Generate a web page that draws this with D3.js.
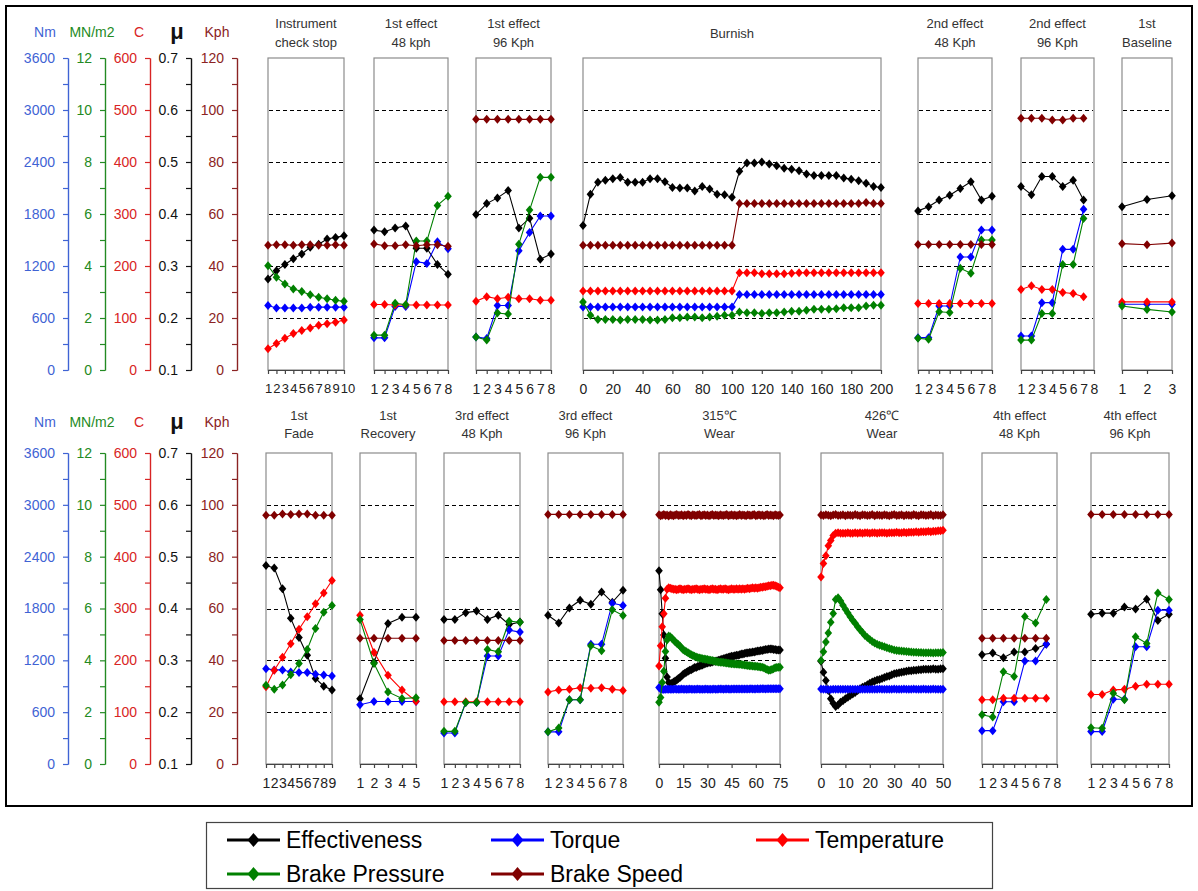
<!DOCTYPE html>
<html>
<head>
<meta charset="utf-8">
<script src="https://cdn.jsdelivr.net/npm/d3@7"></script>
<style>
  body { margin: 0; background: #fff; }
  svg { display: block; }
  text { font-family: "Liberation Sans", Arial, sans-serif; }
</style>
</head>
<body>
<svg id="chart" width="1198" height="891"></svg>
<script>
// ---------------- Data ----------------
// Shared value axes (one per measured quantity)
const torqueTicks   = [0, 600, 1200, 1800, 2400, 3000, 3600];
const pressureTicks = [0, 2, 4, 6, 8, 10, 12];
const tempTicks     = [0, 100, 200, 300, 400, 500, 600];
const muTicks       = [0.1, 0.2, 0.3, 0.4, 0.5, 0.6, 0.7];
const speedTicks    = [0, 20, 40, 60, 80, 100, 120];
const gridSpeeds    = [20, 40, 60, 80, 100];

// Instrument check stop
const checkStopX        = [1, 2, 3, 4, 5, 6, 7, 8, 9, 10];
const checkStopEff      = [0.275, 0.291, 0.303, 0.314, 0.323, 0.336, 0.342, 0.352, 0.355, 0.358];
const checkStopTorque   = [745, 715, 715, 715, 715, 725, 725, 725, 725, 725];
const checkStopTemp     = [41, 51, 61, 70, 76, 81, 86, 89, 92, 96];
const checkStopPressure = [4.01, 3.57, 3.31, 3.12, 3.02, 2.89, 2.80, 2.74, 2.68, 2.64];
const checkStopSpeed    = [48, 48.2, 48.2, 48, 48.2, 48.2, 48, 48, 48.2, 48];

// 1st effect 48 kph
const eff1a48X        = [1, 2, 3, 4, 5, 6, 7, 8];
const eff1a48Eff      = [0.369, 0.366, 0.373, 0.377, 0.334, 0.334, 0.303, 0.284];
const eff1a48Torque   = [371, 371, 734, 734, 1250, 1230, 1480, 1400];
const eff1a48Temp     = [126, 126, 125, 125, 125, 125, 125, 125];
const eff1a48Pressure = [1.34, 1.34, 2.57, 2.51, 4.96, 4.96, 6.33, 6.68];
const eff1a48Speed    = [48.5, 47.8, 47.8, 48.2, 47.8, 48.2, 48.2, 47.6];

// 1st effect 96 Kph
const eff1a96X        = [1, 2, 3, 4, 5, 6, 7, 8];
const eff1a96Eff      = [0.399, 0.420, 0.431, 0.445, 0.373, 0.392, 0.313, 0.323];
const eff1a96Torque   = [382, 363, 745, 745, 1376, 1586, 1777, 1777];
const eff1a96Temp     = [132, 141, 137, 140, 137, 137, 134, 134];
const eff1a96Pressure = [1.27, 1.15, 2.19, 2.15, 4.84, 6.15, 7.41, 7.41];
const eff1a96Speed    = [96.4, 96.4, 96.4, 96.4, 96.4, 96.4, 96.4, 96.4];

// Burnish
const burnishX = [0, 5, 10, 15, 20, 25, 30, 35, 40, 45, 50, 55, 60, 65, 70, 75, 80, 85, 90, 95, 100,
  105, 110, 115, 120, 125, 130, 135, 140, 145, 150, 155, 160, 165, 170, 175, 180, 185, 190, 195, 200];
const burnishEff = [0.378, 0.438, 0.461, 0.465, 0.468, 0.470, 0.461, 0.461, 0.461, 0.468, 0.468,
  0.462, 0.451, 0.450, 0.450, 0.444, 0.453, 0.448, 0.438, 0.437, 0.432,
  0.482, 0.498, 0.498, 0.500, 0.496, 0.493, 0.488, 0.486, 0.483, 0.477,
  0.474, 0.474, 0.474, 0.474, 0.469, 0.467, 0.464, 0.459, 0.453, 0.451];
const burnishTorque = [728, 728, 728, 728, 728, 728, 728, 728, 728, 728, 728,
  728, 728, 728, 728, 728, 728, 728, 728, 728, 728,
  870, 870, 870, 870, 870, 870, 870, 870, 870, 870,
  870, 870, 870, 870, 870, 870, 870, 870, 870, 870];
const burnishTemp = [152, 152, 152, 152, 152, 152, 152, 152, 152, 152, 152,
  152, 152, 152, 152, 152, 152, 152, 152, 152, 152,
  187, 187, 187, 185, 185, 185, 185, 186, 187, 187,
  187, 187, 187, 187, 187, 187, 187, 187, 187, 187];
const burnishPressure = [2.62, 2.11, 1.94, 1.94, 1.94, 1.92, 1.94, 1.94, 1.94, 1.92, 1.92,
  1.94, 2.01, 2.01, 2.04, 2.04, 2.01, 2.04, 2.07, 2.11, 2.11,
  2.23, 2.20, 2.20, 2.17, 2.20, 2.20, 2.23, 2.26, 2.26, 2.30,
  2.34, 2.34, 2.34, 2.36, 2.39, 2.39, 2.39, 2.46, 2.49, 2.49];
const burnishSpeed = [48, 48, 48, 48, 48, 48, 48, 48, 48, 48, 48,
  48, 48, 48, 48, 48, 48, 48, 48, 48, 48,
  64, 64, 64, 64, 64, 64, 64, 64, 64, 64,
  64, 64, 64, 64, 64, 64, 64, 64.4, 64, 64];

// 2nd effect 48 Kph
const eff2a48X        = [1, 2, 3, 4, 5, 6, 7, 8];
const eff2a48Eff      = [0.406, 0.414, 0.427, 0.436, 0.449, 0.462, 0.427, 0.434];
const eff2a48Torque   = [373, 373, 738, 738, 1304, 1304, 1615, 1615];
const eff2a48Temp     = [128, 128, 128, 128, 128, 128, 128, 128];
const eff2a48Pressure = [1.22, 1.18, 2.24, 2.21, 3.91, 3.72, 5.00, 5.00];
const eff2a48Speed    = [48.3, 48.3, 48.3, 48.3, 48.3, 48.3, 48.3, 48.3];

// 2nd effect 96 Kph
const eff2a96X        = [1, 2, 3, 4, 5, 6, 7];
const eff2a96Eff      = [0.453, 0.437, 0.472, 0.472, 0.453, 0.465, 0.427];
const eff2a96Torque   = [392, 392, 777, 777, 1392, 1392, 1854];
const eff2a96Temp     = [155, 162, 155, 155, 149, 147, 141];
const eff2a96Pressure = [1.15, 1.15, 2.17, 2.17, 4.06, 4.06, 5.83];
const eff2a96Speed    = [96.8, 96.8, 96.8, 96.2, 96.2, 96.8, 96.8];

// 1st Baseline
const baselineX        = [1, 2, 3];
const baselineEff      = [0.414, 0.428, 0.435];
const baselineTorque   = [758, 758, 758];
const baselineTemp     = [131, 131, 131];
const baselinePressure = [2.46, 2.33, 2.23];
const baselineSpeed    = [48.6, 48.2, 48.8];

// 1st Fade
const fadeX        = [1, 2, 3, 4, 5, 6, 7, 8, 9];
const fadeEff      = [0.483, 0.478, 0.438, 0.381, 0.344, 0.310, 0.265, 0.250, 0.243];
const fadeTorque   = [1104, 1089, 1089, 1065, 1058, 1058, 1038, 1031, 1019];
const fadeTemp     = [149, 181, 206, 232, 260, 284, 309, 330, 354];
const fadePressure = [3.04, 2.88, 3.05, 3.44, 3.88, 4.42, 5.23, 5.86, 6.12];
const fadeSpeed    = [96, 96, 96.5, 96.3, 96.5, 96.5, 96, 96, 96];

// 1st Recovery
const recoveryX        = [1, 2, 3, 4, 5];
const recoveryEff      = [0.226, 0.296, 0.371, 0.383, 0.383];
const recoveryTorque   = [685, 723, 723, 723, 723];
const recoveryTemp     = [287, 215, 171, 143, 121];
const recoveryPressure = [5.58, 3.88, 2.78, 2.53, 2.56];
const recoverySpeed    = [48.5, 48.5, 48.5, 48.5, 48.5];

// 3rd effect 48 Kph
const eff3a48X        = [1, 2, 3, 4, 5, 6, 7, 8];
const eff3a48Eff      = [0.379, 0.379, 0.392, 0.395, 0.379, 0.387, 0.369, 0.374];
const eff3a48Torque   = [358, 358, 712, 712, 1250, 1250, 1550, 1527];
const eff3a48Temp     = [120, 120, 120, 120, 120, 120, 120, 120];
const eff3a48Pressure = [1.26, 1.26, 2.37, 2.37, 4.42, 4.33, 5.51, 5.47];
const eff3a48Speed    = [47.7, 47.7, 47.7, 47.7, 47.7, 47.7, 47.7, 47.7];

// 3rd effect 96 Kph
const eff3a96X        = [1, 2, 3, 4, 5, 6, 7, 8];
const eff3a96Eff      = [0.387, 0.372, 0.401, 0.416, 0.408, 0.432, 0.412, 0.435];
const eff3a96Torque   = [372, 372, 744, 744, 1386, 1386, 1861, 1834];
const eff3a96Temp     = [139, 143, 144, 147, 146, 147, 144, 142];
const eff3a96Pressure = [1.24, 1.39, 2.48, 2.48, 4.56, 4.37, 5.95, 5.73];
const eff3a96Speed    = [96.3, 96.3, 96.3, 96.3, 96.3, 96.3, 96.3, 96.3];

// 315 °C wear
const wear315X = [0, 1, 2, 3, 4, 5, 6, 7, 8, 9, 10, 11, 12, 13, 14, 15, 16, 17, 18, 19,
  20, 21, 22, 23, 24, 25, 26, 27, 28, 29, 30, 31, 32, 33, 34, 35, 36, 37, 38, 39,
  40, 41, 42, 43, 44, 45, 46, 47, 48, 49, 50, 51, 52, 53, 54, 55, 56, 57, 58, 59,
  60, 61, 62, 63, 64, 65, 66, 67, 68, 69, 70, 71, 72, 73, 74, 75];
const wear315Eff = [0.473, 0.436, 0.390, 0.349, 0.304, 0.268, 0.257, 0.255, 0.256, 0.258,
  0.260, 0.262, 0.265, 0.267, 0.270, 0.273, 0.275, 0.277, 0.279, 0.281,
  0.282, 0.284, 0.286, 0.286, 0.288, 0.289, 0.290, 0.291, 0.293, 0.294,
  0.295, 0.296, 0.296, 0.297, 0.298, 0.298, 0.299, 0.300, 0.301, 0.302,
  0.303, 0.304, 0.305, 0.306, 0.307, 0.308, 0.308, 0.309, 0.310, 0.310,
  0.311, 0.312, 0.312, 0.313, 0.314, 0.314, 0.315, 0.315, 0.316, 0.316,
  0.317, 0.318, 0.318, 0.319, 0.319, 0.320, 0.321, 0.321, 0.322, 0.322,
  0.322, 0.321, 0.321, 0.320, 0.320, 0.320];
const wear315Torque = [885, 868, 865, 862, 864, 866, 866, 865, 864, 866,
  867, 866, 865, 866, 867, 866, 865, 866, 866, 867,
  866, 865, 866, 866, 867, 866, 865, 866, 866, 867,
  866, 865, 866, 866, 867, 866, 866, 867, 868, 867,
  866, 867, 868, 867, 866, 867, 868, 868, 867, 868,
  869, 868, 867, 868, 869, 868, 869, 870, 869, 868,
  869, 870, 869, 870, 871, 870, 869, 870, 871, 870,
  871, 872, 871, 870, 871, 870];
const wear315Temp = [189, 228, 265, 290, 320, 337, 340, 339, 338, 337,
  337, 336, 337, 338, 337, 336, 337, 337, 338, 337,
  336, 337, 337, 338, 337, 336, 337, 337, 338, 337,
  337, 336, 337, 338, 337, 337, 336, 337, 338, 337,
  337, 338, 337, 336, 337, 338, 337, 337, 338, 337,
  338, 337, 338, 337, 338, 339, 338, 339, 340, 339,
  340, 339, 340, 341, 341, 342, 342, 343, 344, 344,
  345, 345, 344, 343, 341, 340];
const wear315Pressure = [2.38, 2.57, 3.14, 3.58, 4.34, 4.78, 4.94, 4.91, 4.85, 4.78,
  4.72, 4.66, 4.61, 4.55, 4.48, 4.41, 4.37, 4.33, 4.29, 4.25,
  4.22, 4.19, 4.16, 4.13, 4.11, 4.09, 4.08, 4.06, 4.05, 4.04,
  4.03, 4.01, 4.00, 3.99, 3.97, 3.96, 3.95, 3.94, 3.93, 3.93,
  3.92, 3.91, 3.90, 3.89, 3.88, 3.87, 3.87, 3.86, 3.86, 3.85,
  3.85, 3.84, 3.83, 3.82, 3.81, 3.80, 3.79, 3.79, 3.78, 3.77,
  3.77, 3.76, 3.75, 3.74, 3.73, 3.71, 3.68, 3.65, 3.62, 3.63,
  3.65, 3.68, 3.71, 3.72, 3.73, 3.73];
const wear315Speed = [96.2, 95.8, 96.0, 96.3, 95.9, 96.1, 95.7, 96.2, 96.0, 95.8,
  96.1, 96.3, 95.9, 96.0, 96.2, 95.8, 96.1, 95.9, 96.3, 96.0,
  95.8, 96.2, 96.0, 95.9, 96.1, 96.3, 95.8, 96.0, 96.2, 95.9,
  96.1, 95.8, 96.0, 96.3, 95.9, 96.1, 96.0, 95.8, 96.2, 96.0,
  95.9, 96.1, 96.3, 95.8, 96.0, 96.2, 95.9, 96.1, 95.8, 96.0,
  96.3, 95.9, 96.1, 96.0, 95.8, 96.2, 96.0, 95.9, 96.1, 96.3,
  95.8, 96.0, 96.2, 95.9, 96.1, 95.8, 96.0, 96.3, 95.9, 96.1,
  96.0, 95.8, 96.2, 96.0, 95.9, 96.1];

// 426 °C wear
const wear426X = [0, 1, 2, 3, 4, 5, 6, 7, 8, 9, 10, 11, 12, 13, 14, 15, 16, 17, 18, 19,
  20, 21, 22, 23, 24, 25, 26, 27, 28, 29, 30, 31, 32, 33, 34, 35, 36, 37, 38, 39,
  40, 41, 42, 43, 44, 45, 46, 47, 48, 49, 50];
const wear426Eff = [0.298, 0.277, 0.261, 0.242, 0.226, 0.217, 0.211, 0.214, 0.219, 0.222,
  0.226, 0.229, 0.232, 0.235, 0.238, 0.242, 0.245, 0.248, 0.250, 0.253,
  0.256, 0.258, 0.260, 0.262, 0.263, 0.265, 0.267, 0.269, 0.270, 0.272,
  0.274, 0.275, 0.276, 0.277, 0.278, 0.279, 0.280, 0.280, 0.281, 0.281,
  0.282, 0.282, 0.283, 0.283, 0.283, 0.283, 0.284, 0.283, 0.283, 0.284,
  0.284];
const wear426Torque = [868, 866, 864, 862, 863, 864, 865, 864, 865, 866,
  865, 864, 865, 866, 865, 866, 865, 864, 865, 866,
  865, 866, 865, 866, 867, 866, 865, 866, 865, 866,
  867, 866, 865, 866, 867, 866, 865, 866, 867, 866,
  865, 866, 867, 866, 865, 866, 867, 866, 865, 866,
  866];
const wear426Temp = [361, 387, 402, 421, 431, 441, 445, 446, 445, 445,
  445, 446, 445, 445, 446, 445, 446, 445, 446, 446,
  445, 446, 446, 445, 446, 446, 446, 445, 446, 446,
  446, 447, 446, 446, 447, 446, 447, 447, 447, 448,
  447, 448, 448, 448, 449, 448, 449, 449, 450, 450,
  451];
const wear426Pressure = [3.99, 4.33, 4.71, 5.05, 5.47, 5.81, 6.35, 6.41, 6.29, 6.13,
  5.97, 5.83, 5.68, 5.55, 5.43, 5.30, 5.18, 5.07, 4.96, 4.88,
  4.80, 4.73, 4.67, 4.62, 4.58, 4.55, 4.52, 4.49, 4.46, 4.43,
  4.40, 4.38, 4.37, 4.36, 4.35, 4.34, 4.33, 4.32, 4.31, 4.31,
  4.30, 4.30, 4.29, 4.29, 4.29, 4.29, 4.28, 4.29, 4.29, 4.29,
  4.30];
const wear426Speed = [96.1, 95.9, 96.2, 96.0, 95.8, 96.1, 96.3, 95.9, 96.0, 96.2,
  95.8, 96.1, 96.0, 95.9, 96.3, 96.0, 95.8, 96.2, 96.1, 95.9,
  96.0, 96.3, 95.8, 96.1, 96.0, 95.9, 96.2, 96.0, 95.8, 96.1,
  96.3, 95.9, 96.0, 96.2, 95.8, 96.1, 96.0, 95.9, 96.3, 96.0,
  95.8, 96.2, 96.1, 95.9, 96.0, 96.3, 95.8, 96.1, 96.0, 95.9,
  96.2];

// 4th effect 48 Kph
const eff4a48X        = [1, 2, 3, 4, 5, 6, 7];
const eff4a48Eff      = [0.311, 0.314, 0.305, 0.316, 0.316, 0.323, 0.331];
const eff4a48Torque   = [386, 386, 720, 720, 1193, 1193, 1388];
const eff4a48Temp     = [124, 124, 127, 127, 127, 127, 127];
const eff4a48Pressure = [1.90, 1.81, 3.56, 3.38, 5.69, 5.44, 6.35];
const eff4a48Speed    = [48.5, 48.5, 48.5, 48.5, 48.5, 48.5, 48.5];

// 4th effect 96 Kph
const eff4a96X        = [1, 2, 3, 4, 5, 6, 7, 8];
const eff4a96Eff      = [0.389, 0.391, 0.391, 0.403, 0.399, 0.418, 0.377, 0.389];
const eff4a96Torque   = [375, 375, 750, 750, 1358, 1358, 1781, 1781];
const eff4a96Temp     = [134, 134, 143, 144, 150, 154, 154, 154];
const eff4a96Pressure = [1.40, 1.38, 2.73, 2.48, 4.91, 4.65, 6.60, 6.35];
const eff4a96Speed    = [96.3, 96.3, 96.3, 96.3, 96.3, 96.3, 96.3, 96.3];

// Panel content: titles, x range, x ticks and the series of each test
const panels = [
  { title: ["Instrument", "check stop"], domain: [1, 10], ticks: [1,2,3,4,5,6,7,8,9,10],
    x: checkStopX, eff: checkStopEff, torque: checkStopTorque, temp: checkStopTemp, pressure: checkStopPressure, speed: checkStopSpeed },
  { title: ["1st effect", "48 kph"], domain: [1, 8], ticks: [1,2,3,4,5,6,7,8],
    x: eff1a48X, eff: eff1a48Eff, torque: eff1a48Torque, temp: eff1a48Temp, pressure: eff1a48Pressure, speed: eff1a48Speed },
  { title: ["1st effect", "96 Kph"], domain: [1, 8], ticks: [1,2,3,4,5,6,7,8],
    x: eff1a96X, eff: eff1a96Eff, torque: eff1a96Torque, temp: eff1a96Temp, pressure: eff1a96Pressure, speed: eff1a96Speed },
  { title: ["Burnish"], domain: [0, 200], ticks: [0,20,40,60,80,100,120,140,160,180,200],
    x: burnishX, eff: burnishEff, torque: burnishTorque, temp: burnishTemp, pressure: burnishPressure, speed: burnishSpeed },
  { title: ["2nd effect", "48 Kph"], domain: [1, 8], ticks: [1,2,3,4,5,6,7,8],
    x: eff2a48X, eff: eff2a48Eff, torque: eff2a48Torque, temp: eff2a48Temp, pressure: eff2a48Pressure, speed: eff2a48Speed },
  { title: ["2nd effect", "96 Kph"], domain: [1, 8], ticks: [1,2,3,4,5,6,7,8],
    x: eff2a96X, eff: eff2a96Eff, torque: eff2a96Torque, temp: eff2a96Temp, pressure: eff2a96Pressure, speed: eff2a96Speed },
  { title: ["1st", "Baseline"], domain: [1, 3], ticks: [1,2,3],
    x: baselineX, eff: baselineEff, torque: baselineTorque, temp: baselineTemp, pressure: baselinePressure, speed: baselineSpeed },
  { title: ["1st", "Fade"], domain: [1, 9], ticks: [1,2,3,4,5,6,7,8,9],
    x: fadeX, eff: fadeEff, torque: fadeTorque, temp: fadeTemp, pressure: fadePressure, speed: fadeSpeed },
  { title: ["1st", "Recovery"], domain: [1, 5], ticks: [1,2,3,4,5],
    x: recoveryX, eff: recoveryEff, torque: recoveryTorque, temp: recoveryTemp, pressure: recoveryPressure, speed: recoverySpeed },
  { title: ["3rd effect", "48 Kph"], domain: [1, 8], ticks: [1,2,3,4,5,6,7,8],
    x: eff3a48X, eff: eff3a48Eff, torque: eff3a48Torque, temp: eff3a48Temp, pressure: eff3a48Pressure, speed: eff3a48Speed },
  { title: ["3rd effect", "96 Kph"], domain: [1, 8], ticks: [1,2,3,4,5,6,7,8],
    x: eff3a96X, eff: eff3a96Eff, torque: eff3a96Torque, temp: eff3a96Temp, pressure: eff3a96Pressure, speed: eff3a96Speed },
  { title: ["315\u2103", "Wear"], domain: [0, 75], ticks: [0,15,30,45,60,75],
    x: wear315X, eff: wear315Eff, torque: wear315Torque, temp: wear315Temp, pressure: wear315Pressure, speed: wear315Speed },
  { title: ["426\u2103", "Wear"], domain: [0, 50], ticks: [0,10,20,30,40,50],
    x: wear426X, eff: wear426Eff, torque: wear426Torque, temp: wear426Temp, pressure: wear426Pressure, speed: wear426Speed },
  { title: ["4th effect", "48 Kph"], domain: [1, 8], ticks: [1,2,3,4,5,6,7,8],
    x: eff4a48X, eff: eff4a48Eff, torque: eff4a48Torque, temp: eff4a48Temp, pressure: eff4a48Pressure, speed: eff4a48Speed },
  { title: ["4th effect", "96 Kph"], domain: [1, 8], ticks: [1,2,3,4,5,6,7,8],
    x: eff4a96X, eff: eff4a96Eff, torque: eff4a96Torque, temp: eff4a96Temp, pressure: eff4a96Pressure, speed: eff4a96Speed }
];

// ---------------- Layout & style ----------------
const W = 1198, H = 891;
const rows = [
  { top: 58,  bottom: 370, unitY: 37,  titleY: [28, 47],   tickLabelGap: 10 },
  { top: 453, bottom: 764, unitY: 427, titleY: [420, 438], tickLabelGap: 10 }
];
// left/right pixel edges of each panel, in the same order as `panels`
const panelLayout = [
  { row: 0, left: 268,  right: 344, tickFont: 13 },
  { row: 0, left: 374,  right: 448 },
  { row: 0, left: 476,  right: 551 },
  { row: 0, left: 583,  right: 881 },
  { row: 0, left: 918,  right: 992 },
  { row: 0, left: 1021, right: 1094 },
  { row: 0, left: 1122, right: 1172 },
  { row: 1, left: 266,  right: 332 },
  { row: 1, left: 360,  right: 416 },
  { row: 1, left: 444,  right: 520 },
  { row: 1, left: 548,  right: 623 },
  { row: 1, left: 659,  right: 780 },
  { row: 1, left: 821,  right: 943 },
  { row: 1, left: 982,  right: 1057 },
  { row: 1, left: 1091, right: 1169 }
];

const series = [
  { key: "eff",      name: "Effectiveness",  color: "#000000", domain: [0.1, 0.7] },
  { key: "torque",   name: "Torque",         color: "#0000ff", domain: [0, 3600] },
  { key: "temp",     name: "Temperature",    color: "#ff0000", domain: [0, 600] },
  { key: "pressure", name: "Brake Pressure", color: "#008000", domain: [0, 12] },
  { key: "speed",    name: "Brake Speed",    color: "#800000", domain: [0, 120] }
];

const valueAxes = [
  { key: "torque",   unit: "Nm",    ticks: torqueTicks,   x: 68,  unitX: 45,  color: "#3f63d4", fmt: d3.format("d") },
  { key: "pressure", unit: "MN/m2", ticks: pressureTicks, x: 105, unitX: 92,  color: "#238a23", fmt: d3.format("d") },
  { key: "temp",     unit: "C",     ticks: tempTicks,     x: 150, unitX: 139, color: "#d82424", fmt: d3.format("d") },
  { key: "eff",      unit: "\u03bc", ticks: muTicks,      x: 191, unitX: 177, color: "#111111", fmt: d3.format(".1f") },
  { key: "speed",    unit: "Kph",   ticks: speedTicks,    x: 237, unitX: 217, color: "#8b2323", fmt: d3.format("d") }
];

const svg = d3.select("#chart");
svg.append("rect").attr("width", W).attr("height", H).attr("fill", "#fff");

// outer frame
svg.append("rect")
  .attr("x", 6).attr("y", 6).attr("width", 1186).attr("height", 800)
  .attr("fill", "none").attr("stroke", "#000").attr("stroke-width", 2);

function rowScales(row) {
  const s = {};
  series.forEach(d => {
    s[d.key] = d3.scaleLinear().domain(d.domain).range([row.bottom, row.top]);
  });
  return s;
}
const scalesByRow = rows.map(rowScales);

const diamond = "M0,-4.5L3.8,0L0,4.5L-3.8,0Z";

// ---------------- Left value axes ----------------
rows.forEach((row, ri) => {
  const ys = scalesByRow[ri];
  valueAxes.forEach(a => {
    const y = ys[a.key];
    const minor = d3.pairs(a.ticks).map(([p, q]) => (p + q) / 2);
    const g = svg.append("g").attr("transform", `translate(${a.x},0)`);
    g.append("g").call(d3.axisLeft(y).tickValues(minor).tickFormat("").tickSize(5).tickSizeOuter(0));
    g.append("g").call(d3.axisLeft(y).tickValues(a.ticks).tickFormat(a.fmt).tickSize(5).tickSizeOuter(0).tickPadding(8));
    g.selectAll("path.domain, line").attr("stroke", a.color).attr("stroke-width", 1.2);
    g.selectAll("text").attr("fill", a.color).attr("font-size", 14);
    const u = svg.append("text")
      .attr("x", a.unitX).attr("y", row.unitY)
      .attr("text-anchor", "middle").attr("fill", a.color)
      .text(a.unit);
    if (a.key === "eff") {
      u.attr("font-family", "'Liberation Serif', 'DejaVu Serif', serif")
       .attr("font-weight", "bold").attr("font-size", 22).attr("y", row.unitY + 2);
    } else {
      u.attr("font-size", 14);
    }
  });
});

// ---------------- Panels ----------------
panels.forEach((p, i) => {
  const lay = panelLayout[i];
  const row = rows[lay.row];
  const ys = scalesByRow[lay.row];
  const x = d3.scaleLinear().domain(p.domain).range([lay.left, lay.right]);
  const g = svg.append("g");
  const cx = (lay.left + lay.right) / 2;

  // title
  if (p.title.length === 1) {
    g.append("text").attr("x", cx).attr("y", (row.titleY[0] + row.titleY[1]) / 2)
      .attr("text-anchor", "middle").attr("font-size", 13).attr("fill", "#333").text(p.title[0]);
  } else {
    p.title.forEach((t, k) => {
      g.append("text").attr("x", cx).attr("y", row.titleY[k])
        .attr("text-anchor", "middle").attr("font-size", 13).attr("fill", "#333").text(t);
    });
  }

  // frame
  g.append("rect")
    .attr("x", lay.left).attr("y", row.top)
    .attr("width", lay.right - lay.left).attr("height", row.bottom - row.top)
    .attr("fill", "none").attr("stroke", "#8c8c8c").attr("stroke-width", 1.2);

  // dashed gridlines on the speed scale
  g.selectAll("line.grid").data(gridSpeeds).join("line")
    .attr("class", "grid")
    .attr("x1", lay.left + 1).attr("x2", lay.right - 1)
    .attr("y1", d => Math.round(ys.speed(d)) + 0.5).attr("y2", d => Math.round(ys.speed(d)) + 0.5)
    .attr("stroke", "#000").attr("stroke-width", 1).attr("stroke-dasharray", "4,3");

  // x axis
  const ax = g.append("g").attr("transform", `translate(0,${row.bottom})`)
    .call(d3.axisBottom(x).tickValues(p.ticks).tickFormat(d3.format("d"))
      .tickSize(4).tickSizeOuter(0).tickPadding(row.tickLabelGap));
  ax.selectAll("path.domain, line").attr("stroke", "#444").attr("stroke-width", 1.2);
  ax.selectAll("text").attr("font-size", lay.tickFont || 14).attr("fill", "#222");
  // a crowded two-digit last label is nudged right so it clears its neighbour
  if (lay.tickFont) {
    ax.selectAll("text").filter(d => d >= 10).attr("dx", 3.5);
  }

  // series lines and markers
  series.forEach(s => {
    const pts = p[s.key].map((v, k) => [x(p.x[k]), ys[s.key](v)]);
    g.append("path")
      .attr("d", d3.line()(pts))
      .attr("fill", "none").attr("stroke", s.color).attr("stroke-width", 1.1);
    g.selectAll(null).data(pts).join("path")
      .attr("d", diamond)
      .attr("transform", d => `translate(${d[0]},${d[1]})`)
      .attr("fill", s.color);
  });
});

// ---------------- Legend ----------------
const legend = svg.append("g");
legend.append("rect")
  .attr("x", 206.5).attr("y", 822.5).attr("width", 786).attr("height", 66)
  .attr("fill", "#fff").attr("stroke", "#444").attr("stroke-width", 1.2);
const legendSlots = [
  { x: 227, y: 840 }, { x: 491, y: 840 }, { x: 756, y: 840 },
  { x: 227, y: 874 }, { x: 491, y: 874 }
];
const legendOrder = ["eff", "torque", "temp", "pressure", "speed"];
legendOrder.forEach((k, i) => {
  const s = series.find(d => d.key === k);
  const slot = legendSlots[i];
  legend.append("line")
    .attr("x1", slot.x).attr("x2", slot.x + 53)
    .attr("y1", slot.y).attr("y2", slot.y)
    .attr("stroke", s.color).attr("stroke-width", 3);
  legend.append("path")
    .attr("d", "M0,-7L6,0L0,7L-6,0Z")
    .attr("transform", `translate(${slot.x + 26.5},${slot.y})`)
    .attr("fill", s.color);
  legend.append("text")
    .attr("x", slot.x + 59).attr("y", slot.y + 8)
    .attr("font-size", 23).attr("fill", "#000")
    .text(s.name);
});
</script>
</body>
</html>
